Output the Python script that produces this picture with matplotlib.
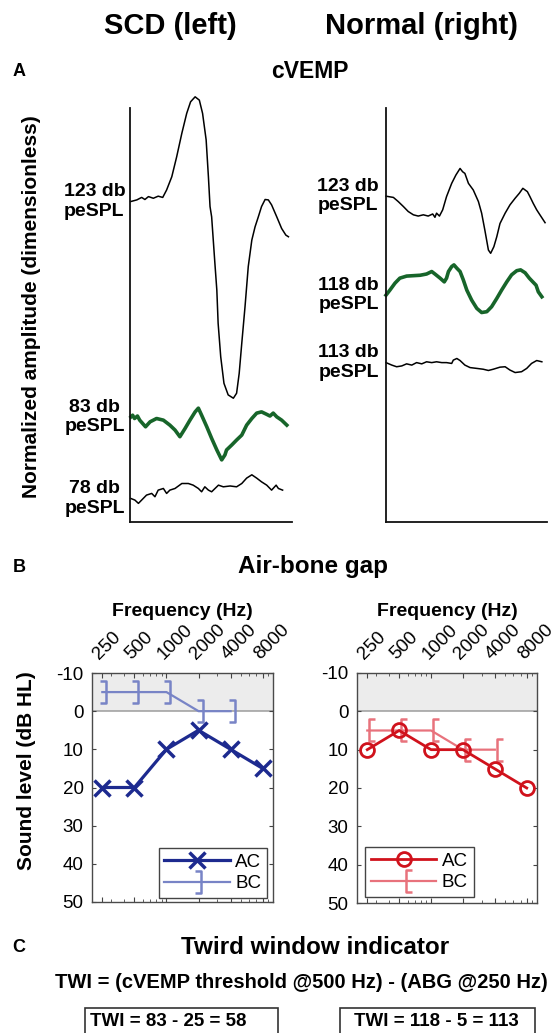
import numpy as np
import matplotlib.pyplot as plt
from matplotlib.path import Path
from matplotlib.patches import Rectangle

plt.rcParams['font.family'] = ['Liberation Sans', 'DejaVu Sans']
plt.rcParams['axes.unicode_minus'] = False

W, H = 559, 1033

# ---------------- panel A: cVEMP traces (time in ms, amplitude in a.u.) ----------------
scd_123_t = [0.2, 2.1, 3.6, 4.6, 5.7, 7.2, 8.7, 10.1, 11.3, 12.9, 14.4, 16.0, 17.5, 18.7, 20.1,
             21.4, 22.4, 23.5, 24.2, 24.7, 25.2, 25.7, 26.2, 26.8, 27.2, 28.0, 29.0, 30.3, 31.9,
             32.9, 33.7, 34.5, 35.5, 36.5, 37.6, 38.6, 39.6, 40.6, 41.7, 42.7, 43.7, 45.3, 46.8,
             48.1, 48.9]
scd_123_v = [77.4, 77.8, 78.4, 77.9, 78.6, 78.2, 78.7, 78.4, 80.2, 83.4, 88.2, 93.9, 98.7, 101.5,
             102.7, 101.9, 98.7, 92.3, 83.4, 76.2, 73.7, 68.1, 62.5, 56.0, 48.0, 39.9, 33.5, 30.7,
             29.9, 31.1, 35.9, 43.2, 52.0, 61.7, 68.1, 71.3, 73.7, 76.2, 77.9, 77.8, 76.6, 73.7,
             70.9, 69.3, 68.9]

scd_83_t = [0.3, 0.8, 1.4, 2.3, 3.0, 4.8, 6.2, 8.2, 10.3, 12.3, 13.9, 15.4, 17.0, 18.5, 20.1,
            21.1, 22.1, 23.7, 25.2, 26.8, 28.3, 29.3, 29.8, 31.4, 32.9, 34.5, 36.0, 37.6, 39.1,
            40.6, 42.2, 43.2, 44.2, 45.3, 46.8, 48.4]
scd_83_v = [25.4, 25.8, 25.0, 25.6, 24.6, 23.0, 24.2, 25.0, 24.6, 23.4, 22.2, 20.6, 22.6, 24.6,
            26.6, 27.5, 25.8, 23.0, 20.2, 17.4, 15.0, 16.2, 17.4, 18.6, 19.8, 21.0, 23.4, 25.0,
            26.3, 26.6, 26.0, 25.6, 26.3, 25.4, 24.6, 23.4]

scd_78_t = [0.2, 1.5, 2.6, 3.6, 5.1, 6.7, 7.7, 8.7, 10.3, 11.3, 12.3, 13.9, 16.0, 18.0, 19.5,
            21.1, 22.1, 23.1, 24.2, 25.2, 27.3, 28.8, 30.9, 32.9, 34.5, 36.0, 37.6, 39.1, 40.6,
            42.2, 43.7, 45.1, 45.8, 47.1]
scd_78_v = [5.7, 5.3, 4.5, 5.3, 6.5, 6.9, 6.1, 7.7, 8.1, 6.9, 7.7, 8.1, 9.3, 9.3, 8.9, 8.1, 7.3,
            8.5, 7.7, 7.3, 8.9, 8.5, 8.7, 8.5, 9.3, 10.6, 11.4, 10.6, 9.7, 8.9, 7.7, 8.9, 8.1, 7.7]

nor_123_t = [0.0, 2.3, 3.8, 5.4, 6.9, 8.5, 10.0, 11.6, 13.1, 14.5, 15.2, 15.7, 16.6, 17.6, 18.8,
             20.4, 21.7, 23.0, 23.8, 24.5, 25.6, 27.1, 28.7, 29.7, 30.7, 31.8, 32.5, 33.5, 34.4,
             35.4, 37.0, 38.5, 40.1, 41.4, 42.5, 43.2, 43.9, 44.7, 45.7, 46.8, 47.8, 49.4]
nor_123_v = [78.7, 78.4, 77.4, 76.2, 75.0, 74.2, 73.9, 74.2, 73.9, 74.4, 73.6, 74.6, 73.9, 75.4,
             78.6, 81.8, 83.8, 85.4, 84.6, 84.2, 81.8, 80.2, 77.4, 74.6, 70.5, 65.7, 64.9, 66.5,
             68.9, 72.1, 74.6, 76.6, 78.2, 79.4, 80.6, 80.2, 79.8, 78.6, 77.0, 75.4, 74.2, 72.3]

nor_118_t = [0.0, 1.2, 2.8, 4.3, 6.4, 8.5, 10.6, 12.6, 14.2, 15.2, 16.8, 18.1, 18.8, 19.4, 20.4,
             21.1, 22.0, 23.0, 24.0, 25.1, 26.6, 28.2, 29.7, 31.3, 32.8, 34.4, 35.9, 37.5, 39.0,
             40.6, 41.8, 43.2, 44.5, 45.6, 46.6, 47.3, 48.4]
nor_118_v = [54.8, 56.0, 57.7, 58.9, 59.4, 59.5, 59.6, 59.9, 60.5, 59.9, 58.9, 58.0, 58.9, 60.5,
             61.7, 62.1, 61.3, 60.5, 58.5, 56.0, 53.6, 51.6, 50.6, 50.8, 52.0, 54.0, 56.0, 58.0,
             59.7, 60.7, 60.9, 60.2, 58.9, 58.0, 57.2, 55.6, 54.4]

nor_113_t = [0.0, 1.8, 3.3, 4.9, 6.4, 8.0, 9.5, 11.1, 12.6, 14.2, 15.7, 17.3, 18.8, 20.4, 20.9,
             22.0, 23.0, 24.5, 26.1, 28.2, 30.2, 31.8, 33.3, 35.4, 37.0, 38.5, 40.1, 42.1, 43.7,
             45.2, 46.8, 48.4]
nor_113_v = [38.5, 37.9, 37.5, 37.7, 38.2, 37.9, 38.5, 38.2, 38.7, 38.5, 38.7, 38.5, 38.5, 38.3,
             39.1, 39.5, 39.0, 37.9, 37.3, 37.1, 36.9, 36.6, 36.9, 37.4, 37.5, 36.7, 36.1, 36.3,
             37.1, 38.3, 39.0, 38.7]

scd_labels = ['123 db\npeSPL', '83 db\npeSPL', '78 db\npeSPL']
nor_labels = ['123 db\npeSPL', '118 db\npeSPL', '113 db\npeSPL']

# ---------------- panel B: audiograms (dB HL) ----------------
freqs = [250, 500, 1000, 2000, 4000, 8000]
freq_labels = ['250', '500', '1000', '2000', '4000', '8000']
scd_ac = [20, 20, 10, 5, 10, 15]
scd_bc = [-5, -5, -5, 0, 0]
nor_ac = [10, 5, 10, 10, 15, 20]
nor_bc = [5, 5, 5, 10, 10]
bc_freqs = [250, 500, 1000, 2000, 4000]

# ---------------- panel C text ----------------
twi_formula = 'TWI = (cVEMP threshold @500 Hz) - (ABG @250 Hz)'
twi_scd = 'TWI = 83 - 25 = 58'
twi_nor = 'TWI = 118 - 5 = 113'

GREEN = '#17652a'
AC_BLUE = '#1d2a8f'
BC_BLUE = '#7884c6'
AC_RED = '#d0121c'
BC_RED = '#e8727c'

fig = plt.figure(figsize=(W / 100, H / 100), dpi=100)


def axes_px(x0, y0, x1, y1):
    return fig.add_axes([x0 / W, 1 - y1 / H, (x1 - x0) / W, (y1 - y0) / H])


def ftext(x, y, s, **kw):
    fig.text(x / W, 1 - y / H, s, **kw)


# titles
ftext(170, 26, 'SCD (left)', fontsize=21, fontweight='bold', ha='center', va='center')
ftext(422, 26, 'Normal (right)', fontsize=21, fontweight='bold', ha='center', va='center')
ftext(19, 72, 'A', fontsize=13, fontweight='bold', ha='center', va='center')
ftext(310, 72, 'cVEMP', fontsize=16.5, fontweight='bold', ha='center', va='center')
ftext(32, 307, 'Normalized amplitude (dimensionless)', fontsize=15, fontweight='bold',
      rotation=90, ha='center', va='center')

# ---- panel A
def trace_axes(ax, traces, labels, colors, widths, gap):
    for (t, v), lab, c, lw in zip(traces, labels, colors, widths):
        ax.plot(t, v, color=c, lw=lw, clip_on=False, solid_joinstyle='round')
        ax.annotate(lab, xy=(0, v[0]), xytext=(-gap, 0), textcoords='offset points',
                    ha='right', va='center', multialignment='center',
                    fontsize=14, fontweight='bold', annotation_clip=False)
    ax.set_xlim(0, 50)
    ax.set_ylim(0, 100)
    ax.set_xticks([])
    ax.set_yticks([])
    for s in ['top', 'right']:
        ax.spines[s].set_visible(False)
    for s in ['left', 'bottom']:
        ax.spines[s].set_linewidth(1.3)
        ax.spines[s].set_color('#111111')
    ax.patch.set_alpha(0)


axA1 = axes_px(130, 108, 292, 522)
trace_axes(axA1, [(scd_123_t, scd_123_v), (scd_83_t, scd_83_v), (scd_78_t, scd_78_v)],
           scd_labels, ['black', GREEN, 'black'], [1.1, 2.6, 1.1], 3.5)
axA2 = axes_px(386, 108, 547, 522)
trace_axes(axA2, [(nor_123_t, nor_123_v), (nor_118_t, nor_118_v), (nor_113_t, nor_113_v)],
           nor_labels, ['black', GREEN, 'black'], [1.1, 2.6, 1.1], 5)

# ---- panel B
ftext(19, 567, 'B', fontsize=13, fontweight='bold', ha='center', va='center')
ftext(313, 567, 'Air-bone gap', fontsize=17.5, fontweight='bold', ha='center', va='center')
ftext(27, 771, 'Sound level (dB HL)', fontsize=15, fontweight='bold', rotation=90,
      ha='center', va='center')

right_bracket = Path([(-0.15, 1), (0.35, 1), (0.35, -1), (-0.15, -1)],
                     [Path.MOVETO, Path.LINETO, Path.LINETO, Path.LINETO])
left_bracket = Path([(0.7, 1), (0.2, 1), (0.2, -1), (0.7, -1)],
                    [Path.MOVETO, Path.LINETO, Path.LINETO, Path.LINETO])


def audiogram(ax, ac, bc, ac_color, bc_color, ac_marker, bc_marker, legend_loc, anchor):
    ax.axhspan(-10, 0, color='#ececec', zorder=0, lw=0)
    ax.axhline(0, color='#9c9c9c', lw=1.1, zorder=1)
    if ac_marker == 'x':
        ax.plot(freqs, ac, color=ac_color, lw=2.3, marker='x', ms=11, mew=2.5,
                label='AC', zorder=4, clip_on=False)
    else:
        ax.plot(freqs, ac, color=ac_color, lw=2.0, marker='o', ms=10, mew=2.0,
                mfc='none', label='AC', zorder=4, clip_on=False)
    ax.plot(bc_freqs, bc, color=bc_color, lw=1.6, marker=bc_marker, ms=16, mew=1.8,
            mfc='none', label='BC', zorder=3, clip_on=False)
    ax.set_xscale('log')
    ax.set_xlim(200, 10000)
    ax.set_ylim(50, -10)
    ax.set_yticks(range(-10, 51, 10))
    ax.set_xticks(freqs)
    ax.xaxis.set_minor_formatter(plt.NullFormatter())
    ax.set_xticklabels(freq_labels, rotation=45, ha='left', va='bottom',
                       rotation_mode='anchor')
    ax.tick_params(axis='x', which='both', top=True, bottom=True, labeltop=True,
                   labelbottom=False, direction='in', color='#444444')
    ax.tick_params(axis='x', which='major', length=3.5, labelsize=13.5, pad=7)
    ax.tick_params(axis='x', which='minor', length=2)
    ax.tick_params(axis='y', left=True, right=True, direction='in', length=3,
                   labelsize=13.5, pad=6, color='#444444')
    for s in ax.spines.values():
        s.set_color('#4a4a4a')
        s.set_linewidth(1.0)
    ax.xaxis.set_label_position('top')
    ax.set_xlabel('Frequency (Hz)', fontsize=14, fontweight='bold', labelpad=4)
    leg = ax.legend(loc=legend_loc, bbox_to_anchor=anchor, fontsize=13.5, frameon=True,
                    fancybox=False, edgecolor='#444444', framealpha=1, handlelength=3.5,
                    handletextpad=0.3, borderpad=0.3, labelspacing=0.25, borderaxespad=0)
    leg.get_frame().set_linewidth(1.0)


axB1 = axes_px(92, 673, 273, 902)
audiogram(axB1, scd_ac, scd_bc, AC_BLUE, BC_BLUE, 'x', right_bracket, 'lower right',
          (0.967, 0.017))
axB2 = axes_px(357, 673, 537, 903)
audiogram(axB2, nor_ac, nor_bc, AC_RED, BC_RED, 'o', left_bracket, 'lower left',
          (0.045, 0.026))

# ---- panel C
ftext(19, 948, 'C', fontsize=13, fontweight='bold', ha='center', va='center')
ftext(315, 948, 'Twird window indicator', fontsize=17.5, fontweight='bold',
      ha='center', va='center')
ftext(301, 983, twi_formula, fontsize=14.5, fontweight='bold', ha='center', va='center')
ftext(168, 1022, twi_scd, fontsize=13.5, fontweight='bold', ha='center', va='center')
ftext(436, 1022, twi_nor, fontsize=13.5, fontweight='bold', ha='center', va='center')
for x0, x1 in [(85, 278), (340, 535)]:
    fig.patches.append(Rectangle((x0 / W, 1 - 1040 / H), (x1 - x0) / W, 32 / H,
                                 transform=fig.transFigure, fill=False,
                                 edgecolor='#333333', lw=1.2))

fig.savefig('out.png', dpi=100)
